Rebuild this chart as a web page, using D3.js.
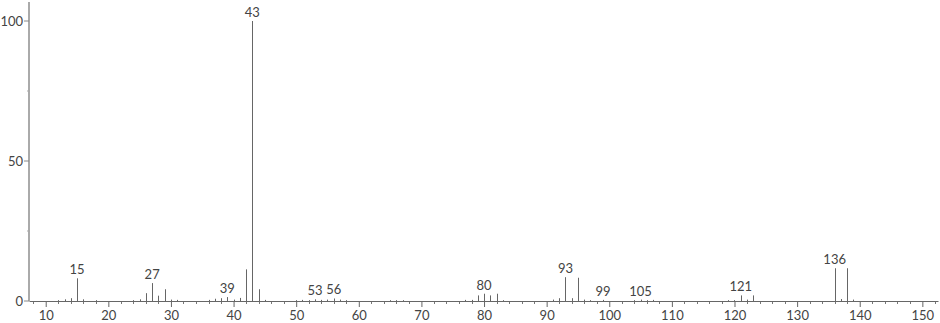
<!DOCTYPE html>
<html>
<head>
<meta charset="utf-8">
<script src="https://cdn.jsdelivr.net/npm/d3@7/dist/d3.min.js"></script>
<style>
  html, body { margin: 0; padding: 0; background: #fff; }
  svg { display: block; }
  text { font-family: Lato, "DejaVu Sans", sans-serif; }
</style>
</head>
<body>
<svg id="chart" width="940" height="323"></svg>
<script>
// m/z values and relative intensities
const mz = [12,13,14,15,16,18,24,25,26,27,28,29,30,31,36,37,38,39,40,41,42,43,44,45,
            50,51,52,53,54,55,56,57,58,65,66,67,77,78,79,80,81,82,83,
            91,92,93,94,95,96,97,99,104,105,106,107,119,120,121,122,123,136,137,138,139];
const intensity = [0.3,0.6,1.0,8.1,0.6,0.3,0.3,0.6,2.8,6.4,1.9,4.2,0.5,0.4,0.4,0.8,1.0,1.4,0.5,1.1,11.3,100,4.2,0.4,
            0.3,0.4,0.3,0.6,0.4,0.5,0.9,0.5,0.3,0.3,0.3,0.3,0.4,0.4,2.0,2.6,2.0,2.6,0.3,
            0.5,1.0,8.5,1.0,8.3,0.5,0.3,0.4,0.3,0.5,0.3,0.4,0.3,0.3,2.0,0.5,2.0,11.7,0.7,11.7,0.5];
const labelledPeaks = [15,27,39,43,53,56,80,93,99,105,121,136];
const xMajorTicks = [10,20,30,40,50,60,70,80,90,100,110,120,130,140,150];
const yMajorTicks = [0,50,100];
const yMinorTicks = [25,75];

const peaks = mz.map((m,i)=>({mz:m, v:intensity[i]}));
const svg = d3.select("#chart");

const x = d3.scaleLinear().domain([7.33, 152.5]).range([29, 938]);
const y = d3.scaleLinear().domain([0, 100]).range([301, 21]);

// x axis minor ticks (every 2)
const minor = d3.range(8, 153, 2).filter(v => v % 10 !== 0);
svg.append("g").selectAll("line").data(minor).join("line")
  .attr("x1", d => Math.round(x(d)) + 0.5).attr("x2", d => Math.round(x(d)) + 0.5)
  .attr("y1", y(0)).attr("y2", y(0) + 3)
  .attr("stroke", "#777").attr("stroke-width", 1);

// x axis
const xAxis = d3.axisBottom(x).tickValues(xMajorTicks).tickSize(6).tickPadding(4).tickSizeOuter(0);
const gx = svg.append("g").attr("transform", `translate(0,${y(0)})`).call(xAxis);
gx.select(".domain").attr("stroke", "#666");
gx.selectAll(".tick line").attr("stroke", "#666");
gx.selectAll(".tick text").attr("font-size", 13).attr("fill", "#444")
  .attr("font-family", "Lato, 'DejaVu Sans', sans-serif");

// y axis
const gy = svg.append("g").attr("transform", `translate(29,0)`);
gy.append("line").attr("x1", 0).attr("x2", 0).attr("y1", 2).attr("y2", y(0))
  .attr("stroke", "#aaa").attr("stroke-width", 2);
gy.selectAll(".ymaj").data(yMajorTicks).join("line").attr("class","ymaj")
  .attr("x1", -5).attr("x2", 0).attr("y1", d => y(d)).attr("y2", d => y(d))
  .attr("stroke", "#888");
gy.selectAll(".ymin").data(yMinorTicks).join("line").attr("class","ymin")
  .attr("x1", -2).attr("x2", 0).attr("y1", d => y(d)).attr("y2", d => y(d))
  .attr("stroke", "#aaa");
gy.selectAll("text").data(yMajorTicks).join("text")
  .attr("x", -6).attr("y", d => y(d)).attr("dy", "0.36em")
  .attr("text-anchor", "end").attr("font-size", 13).attr("fill", "#444")
  .text(d => d);

// peaks
svg.append("g").selectAll("line").data(peaks).join("line")
  .attr("x1", d => Math.round(x(d.mz)) + 0.5).attr("x2", d => Math.round(x(d.mz)) + 0.5)
  .attr("y1", y(0)).attr("y2", d => y(d.v))
  .attr("stroke", "#666").attr("stroke-width", 1);

// labels
const lab = peaks.filter(p => labelledPeaks.includes(p.mz));
svg.append("g").selectAll("text").data(lab).join("text")
  .attr("x", d => x(d.mz)).attr("y", d => Math.min(y(d.v), y(0) - 1) - 4)
  .attr("text-anchor", "middle").attr("font-size", 13).attr("fill", "#444")
  .text(d => d.mz);
</script>
</body>
</html>
